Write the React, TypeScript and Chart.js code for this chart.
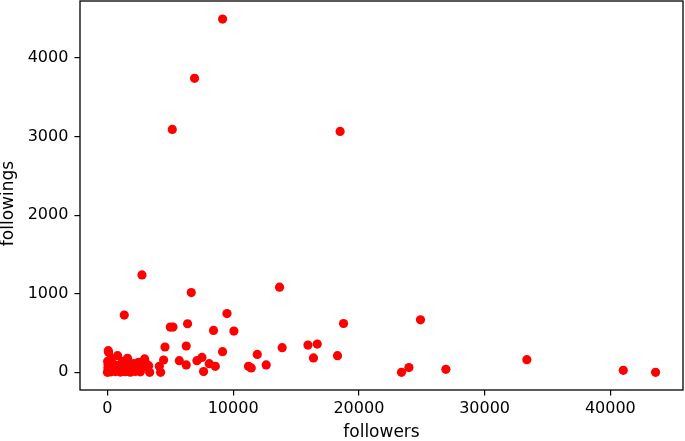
import React, { useEffect, useRef } from "react";
import { Chart, registerables } from "chart.js";

Chart.register(...registerables);

// followers (x) values
const followers: number[] = [
  9160, 6930, 5160, 18510, 2750, 6670, 13690, 1340, 9510, 5000,
  5215, 6375, 8440, 10060, 18780, 24900, 4580, 6270, 9160, 13900,
  15950, 16690, 16390, 18300, 11920, 12630, 11220, 11440, 8580, 8100,
  7650, 7520, 7120, 6270, 5720, 4470, 4130, 4230, 2960, 3280,
  3360, 2400, 1600, 810, 70, 3010, 23390, 23980, 26920, 33360,
  41030, 43600,
  95, 20, 370, 2080, 2480, 0, 230, 630, 1030, 1420,
  1820, 2220, 2620, 40, 490, 1030, 1560, 2080, 2880, 150,
  700, 300, 1200, 900, 1700, 50,
];

// followings (y) values
const followings: number[] = [
  4495, 3741, 3091, 3065, 1239, 1015, 1083, 728, 748, 576,
  576, 618, 533, 525, 621, 668, 322, 335, 263, 313,
  347, 360, 183, 212, 228, 94, 76, 56, 76, 110,
  9, 190, 148, 94, 148, 157, 76, 0, 170, 85,
  0, 76, 178, 212, 275, 127, 0, 60, 38, 161,
  25, 0,
  254, 140, 119, 110, 127, 0, 5, 10, 3, 8,
  2, 12, 6, 56, 60, 50, 45, 40, 70, 30,
  90, 180, 140, 20, 80, 100,
];

const xTicks: number[] = [0, 10000, 20000, 30000, 40000];
const yTicks: number[] = [0, 1000, 2000, 3000, 4000];
const xLabel = "followers";
const yLabel = "followings";

const FONT = "DejaVu Sans";

const frame = {
  id: "frame",
  afterDraw(chart: any) {
    const { ctx, chartArea } = chart;
    ctx.save();
    ctx.strokeStyle = "#000";
    ctx.lineWidth = 1.3;
    ctx.strokeRect(chartArea.left, chartArea.top, chartArea.right - chartArea.left, chartArea.bottom - chartArea.top);
    // y-axis title
    ctx.fillStyle = "#000";
    ctx.font = `17px "${FONT}"`;
    ctx.textAlign = "center";
    ctx.textBaseline = "middle";
    ctx.translate(9, (chartArea.top + chartArea.bottom) / 2 + 8);
    ctx.rotate(-Math.PI / 2);
    ctx.fillText(yLabel, 0, 0);
    ctx.restore();
  },
};

export default function App() {
  const ref = useRef<HTMLCanvasElement | null>(null);

  useEffect(() => {
    document.body.style.margin = "0";
    if (!ref.current) return;
    const data = followers.map((x, i) => ({ x, y: followings[i] }));
    const chart = new Chart(ref.current, {
      type: "scatter",
      data: {
        datasets: [
          {
            data,
            backgroundColor: "#ff0000",
            borderColor: "#ff0000",
            borderWidth: 0,
            pointRadius: 4.6,
            pointHoverRadius: 4.6,
          },
        ],
      },
      plugins: [frame],
      options: {
        animation: false,
        responsive: false,
        devicePixelRatio: 1,
        layout: { autoPadding: false, padding: { top: 1, right: 2, left: 0, bottom: 0 } },
        plugins: { legend: { display: false }, tooltip: { enabled: false } },
        scales: {
          x: {
            type: "linear",
            min: -2180,
            max: 45780,
            afterBuildTicks: (s: any) => {
              s.ticks = xTicks.map((v) => ({ value: v }));
            },
            afterFit: (s: any) => {
              s.height = 51;
              s.paddingLeft = 0;
              s.paddingRight = 0;
            },
            border: { display: false },
            grid: {
              display: true,
              drawOnChartArea: false,
              drawTicks: true,
              tickLength: 5.6,
              color: "#000",
              lineWidth: 1.2,
            },
            ticks: {
              color: "#000",
              font: { family: FONT, size: 16 },
              padding: 4,
              maxRotation: 0,
              autoSkip: false,
              callback: (v: any) => String(v),
            },
            title: {
              display: true,
              text: xLabel,
              color: "#000",
              font: { family: FONT, size: 17, lineHeight: 1.0 },
              padding: 0,
            },
          },
          y: {
            type: "linear",
            min: -225,
            max: 4725,
            afterBuildTicks: (s: any) => {
              s.ticks = yTicks.map((v) => ({ value: v }));
            },
            afterFit: (s: any) => {
              s.width = 80;
              s.paddingTop = 0;
              s.paddingBottom = 0;
            },
            border: { display: false },
            grid: {
              display: true,
              drawOnChartArea: false,
              drawTicks: true,
              tickLength: 5.6,
              color: "#000",
              lineWidth: 1.2,
            },
            ticks: {
              color: "#000",
              font: { family: FONT, size: 16 },
              padding: 6,
              autoSkip: false,
              callback: (v: any) => String(v),
            },
            title: { display: false },
          },
        },
      },
    });
    return () => chart.destroy();
  }, []);

  return (
    <div style={{ position: "absolute", left: 0, top: 0, width: 685, height: 441, background: "#fff" }}>
      <canvas ref={ref} width={685} height={441} style={{ display: "block", width: 685, height: 441 }} />
    </div>
  );
}
